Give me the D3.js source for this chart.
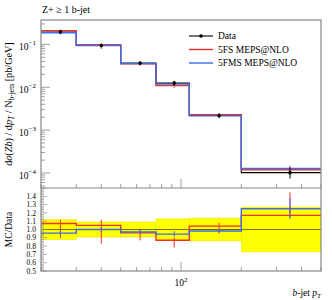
<!DOCTYPE html>
<html><head><meta charset="utf-8">
<script src="https://cdn.jsdelivr.net/npm/d3@7/dist/d3.min.js"></script>
<style>
body{margin:0;background:#fff;}
svg text{font-family:"Liberation Serif","DejaVu Serif",serif;fill:#000;}
</style></head>
<body><svg id="c" width="332" height="300"></svg>
<script>
// ---- data ----
const binEdges   = [20, 30, 50, 75, 110, 200, 500];
const binCentres = [25, 40, 62.5, 92.5, 155, 350];
const dataVals   = [0.195, 0.094, 0.0366, 0.0125, 0.00219, 1.02e-4];
const dataErr    = [0.0234, 0.0085, 0.0033, 0.0016, 0.0003, 2.75e-5];
const fsVals     = [0.209, 0.0987, 0.0351, 0.01088, 0.00228, 1.193e-4];
const fsErrDn    = [0.0337, 0.0207, 0.0033, 0.0011, 0.000175, 2e-6];
const fsErrUp    = [0.0092, 0.0066, 0.0018, 0.0004, 0.0000876, 2.86e-5];
const fmsVals    = [0.1866, 0.094, 0.0355, 0.01181, 0.00215, 1.275e-4];
const fmsErrDn   = [0.0059, 0.0028, 0.0011, 0.0004, 0.000066, 1.28e-5];
const fmsErrUp   = [0.0059, 0.0028, 0.0011, 0.00044, 0.000066, 1.33e-5];
const seriesNames = ["Data", "5FS MEPS@NLO", "5FMS MEPS@NLO"];
const ratioTicks = [0.5,0.6,0.7,0.8,0.9,1.0,1.1,1.2,1.3,1.4];
const mainTicks  = [1e-1, 1e-2, 1e-3, 1e-4];

const RED = "#ee3322", BLUE = "#3c6cf0", AXC = "#888";
const svg = d3.select("#c");
const L = 41, R = 321, T = 20, MB = 188, RB = 271;

const x  = d3.scaleLog().domain([20, 500]).range([L, R]);
const y  = d3.scaleLog().domain([4.47e-5, 0.37]).range([MB, T]);
const yr = d3.scaleLinear().domain([0.5, 1.5]).range([RB, MB]);

const defs = svg.append("defs");
defs.append("clipPath").attr("id","cm").append("rect").attr("x",L).attr("y",T).attr("width",R-L).attr("height",MB-T);
defs.append("clipPath").attr("id","cr").append("rect").attr("x",L).attr("y",MB).attr("width",R-L).attr("height",RB-MB);

function stepPts(vals, yf){
  const pts = [];
  vals.forEach((v,i)=>{ pts.push([x(binEdges[i]), yf(v)]); pts.push([x(binEdges[i+1]), yf(v)]); });
  return pts;
}
const line = d3.line();

// ---- main panel ----
const gm = svg.append("g").attr("clip-path","url(#cm)");
gm.append("path").attr("d", line(stepPts(dataVals, y))).attr("fill","none").attr("stroke","#000").attr("stroke-width",1.1);
gm.append("path").attr("d", line(stepPts(fsVals, y))).attr("fill","none").attr("stroke",RED).attr("stroke-width",1.4);
gm.append("path").attr("d", line(stepPts(fmsVals, y))).attr("fill","none").attr("stroke",BLUE).attr("stroke-width",1.4);
binCentres.forEach((c,i)=>{
  gm.append("line").attr("x1",x(c)).attr("x2",x(c)).attr("y1",y(fsVals[i]-fsErrDn[i])).attr("y2",y(fsVals[i]+fsErrUp[i])).attr("stroke",RED).attr("stroke-width",1);
  gm.append("line").attr("x1",x(c)).attr("x2",x(c)).attr("y1",y(fmsVals[i]-fmsErrDn[i])).attr("y2",y(fmsVals[i]+fmsErrUp[i])).attr("stroke",BLUE).attr("stroke-width",1);
  gm.append("line").attr("x1",x(c)).attr("x2",x(c)).attr("y1",y(dataVals[i]-dataErr[i])).attr("y2",y(dataVals[i]+dataErr[i])).attr("stroke","#000").attr("stroke-width",1);
  gm.append("circle").attr("cx",x(c)).attr("cy",y(dataVals[i])).attr("r",1.8).attr("fill","#000");
});

// ---- ratio panel ----
const gr = svg.append("g").attr("clip-path","url(#cr)");
binEdges.slice(0,-1).forEach((e,i)=>{
  const rel = dataErr[i]/dataVals[i];
  gr.append("rect").attr("x",x(e)).attr("width",x(binEdges[i+1])-x(e))
    .attr("y",yr(1+rel)).attr("height",yr(1-rel)-yr(1+rel)).attr("fill","#ffff00").attr("stroke","#e8e800").attr("stroke-width",0.6);
});
gr.append("line").attr("x1",L).attr("x2",R).attr("y1",yr(1)).attr("y2",yr(1)).attr("stroke","#000").attr("stroke-opacity",0.55).attr("stroke-width",1);
const fsRatio  = fsVals.map((v,i)=>v/dataVals[i]);
const fmsRatio = fmsVals.map((v,i)=>v/dataVals[i]);
gr.append("path").attr("d", line(stepPts(fsRatio, yr))).attr("fill","none").attr("stroke",RED).attr("stroke-width",1.4);
gr.append("path").attr("d", line(stepPts(fmsRatio, yr))).attr("fill","none").attr("stroke",BLUE).attr("stroke-width",1.4);
binCentres.forEach((c,i)=>{
  gr.append("line").attr("x1",x(c)).attr("x2",x(c)).attr("y1",yr((fsVals[i]-fsErrDn[i])/dataVals[i])).attr("y2",yr((fsVals[i]+fsErrUp[i])/dataVals[i])).attr("stroke",RED).attr("stroke-width",1);
  gr.append("line").attr("x1",x(c)).attr("x2",x(c)).attr("y1",yr((fmsVals[i]-fmsErrDn[i])/dataVals[i])).attr("y2",yr((fmsVals[i]+fmsErrUp[i])/dataVals[i])).attr("stroke",BLUE).attr("stroke-width",1);
});

// ---- frames and ticks ----
const ax = svg.append("g").attr("stroke",AXC).attr("fill","none");
ax.append("rect").attr("x",L).attr("y",T).attr("width",R-L).attr("height",RB-T).attr("stroke-width",1.2);
ax.append("line").attr("x1",L).attr("x2",R).attr("y1",MB).attr("y2",MB).attr("stroke-width",1.2);

// main y ticks (log)
const yMinor = [];
for (let d=-5; d<=0; d++) for (let m=1; m<=9; m++){ const v=m*Math.pow(10,d); if(v>=4.47e-5 && v<=0.37) yMinor.push(v); }
yMinor.forEach(v=>{
  const major = mainTicks.some(t=>Math.abs(t-v)/t<1e-6);
  ax.append("line").attr("x1",L).attr("x2",L+(major?9:4)).attr("y1",y(v)).attr("y2",y(v)).attr("stroke-width",0.8);
});
// x ticks (log) on both panels
const xMinor = [20,30,40,50,60,70,80,90,100,200,300,400,500];
xMinor.forEach(v=>{
  const major = v===100;
  [MB, RB].forEach(b=>{
    ax.append("line").attr("x1",x(v)).attr("x2",x(v)).attr("y1",b).attr("y2",b-(major?9:4)).attr("stroke-width",0.8);
  });
});
// ratio y ticks
d3.range(0.5, 1.5001, 0.02).forEach(v=>{
  const major = Math.abs(v*10-Math.round(v*10))<1e-6;
  ax.append("line").attr("x1",L).attr("x2",L+(major?6:3)).attr("y1",yr(v)).attr("y2",yr(v)).attr("stroke-width",0.7);
});

// ---- labels ----
const fs = 9.5;
mainTicks.forEach(t=>{
  const e = Math.round(Math.log10(t));
  const tx = svg.append("text").attr("x",36).attr("y",y(t)+5.5).attr("text-anchor","end").attr("font-size",fs);
  tx.append("tspan").text("10");
  tx.append("tspan").attr("dy",-4.5).attr("font-size",7).text("\u2212"+Math.abs(e));
});
ratioTicks.forEach(t=>{
  svg.append("text").attr("x",36).attr("y",yr(t)+2.6).attr("text-anchor","end").attr("font-size",7.6).text(t.toFixed(1));
});
{
  const tx = svg.append("text").attr("x",x(100)).attr("y",286).attr("text-anchor","middle").attr("font-size",fs);
  tx.append("tspan").text("10");
  tx.append("tspan").attr("dy",-4.5).attr("font-size",7).text("2");
}
// title
{
  const tx = svg.append("text").attr("x",42).attr("y",13).attr("font-size",10);
  tx.append("tspan").text("Z+ \u2265 1 b-jet");
}
// x title
{
  const tx = svg.append("text").attr("x",R).attr("y",296).attr("text-anchor","end").attr("font-size",fs);
  tx.append("tspan").attr("font-style","italic").text("b");
  tx.append("tspan").text("-jet ");
  tx.append("tspan").attr("font-style","italic").text("p");
  tx.append("tspan").attr("font-style","italic").attr("font-size",7).attr("dy",2).text("T");
}
// main y title
{
  const tx = svg.append("text").attr("transform",`translate(12,${(T+MB)/2}) rotate(-90)`).attr("text-anchor","middle").attr("font-size",10.2);
  tx.append("tspan").text("d");
  tx.append("tspan").attr("font-style","italic").text("\u03c3");
  tx.append("tspan").text("(");
  tx.append("tspan").attr("font-style","italic").text("Zb");
  tx.append("tspan").text(") / d");
  tx.append("tspan").attr("font-style","italic").text("p");
  tx.append("tspan").attr("font-style","italic").attr("font-size",7.5).attr("dy",2).text("T");
  tx.append("tspan").attr("dy",-2).text(" / N");
  tx.append("tspan").attr("font-size",7.5).attr("dy",2).text("b-jets");
  tx.append("tspan").attr("dy",-2).text(" [pb/GeV]");
}
// ratio y title
svg.append("text").attr("transform",`translate(12,${(MB+RB)/2}) rotate(-90)`).attr("text-anchor","middle").attr("font-size",fs).text("MC/Data");

// ---- legend ----
const leg = svg.append("g");
const legColors = ["#000", RED, BLUE];
seriesNames.forEach((n,i)=>{
  const yy = 36 + i*13.5;
  leg.append("line").attr("x1",189).attr("x2",213).attr("y1",yy).attr("y2",yy).attr("stroke",legColors[i]).attr("stroke-width",i===0?1.1:1.4);
  if(i===0) leg.append("circle").attr("cx",201).attr("cy",yy).attr("r",1.8).attr("fill","#000");
  leg.append("text").attr("x",218).attr("y",yy+3.3).attr("font-size",fs).text(n);
});
</script></body></html>
